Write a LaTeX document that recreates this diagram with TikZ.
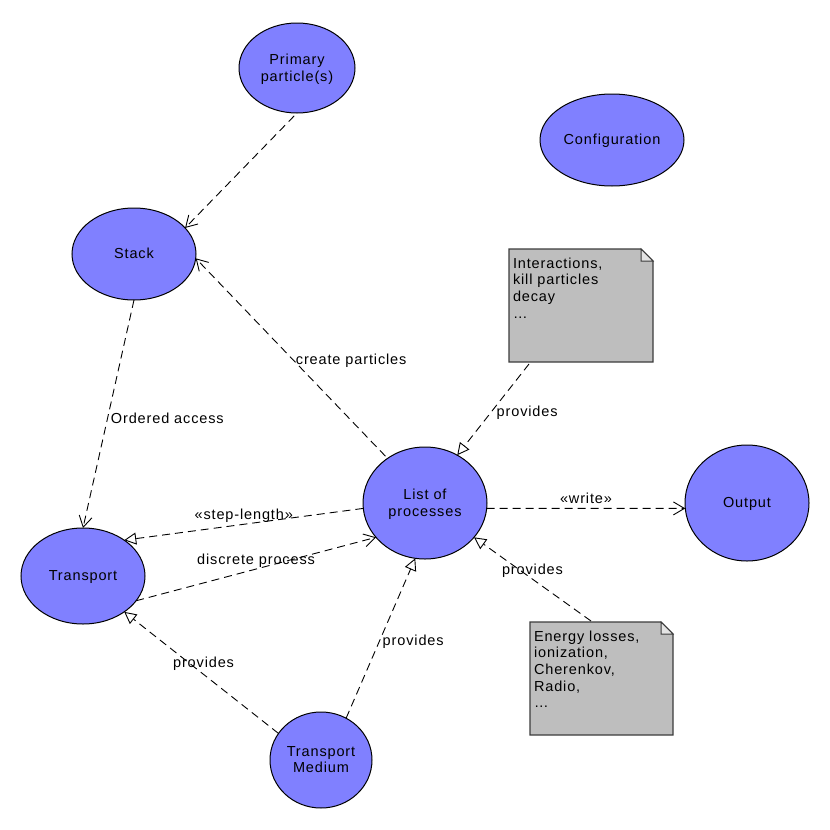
\documentclass[tikz,border=0pt]{standalone}
\usepackage{fontspec}
\usepackage{tikz}
\usetikzlibrary{arrows.meta, shapes.geometric, calc, backgrounds}
\newfontfamily\diagfont{Liberation Sans}[LetterSpace=6]
\newcommand{\diagsize}{\diagfont\fontsize{14.5pt}{16.7pt}\selectfont}
\definecolor{ucfill}{RGB}{128,128,255}
\definecolor{notefill}{RGB}{190,190,190}
\definecolor{notefold}{RGB}{228,228,228}
\definecolor{noteline}{RGB}{60,60,60}
\tikzset{
  usecase/.style={ellipse, draw=black, fill=ucfill, line width=1pt,
                  inner sep=0pt, outer sep=0pt, font=\diagsize, align=center,
                  text depth=1pt},
  note/.style={rectangle, inner sep=4pt, outer sep=0pt, anchor=north west,
               font=\diagsize},
  notepaper/.style={draw=noteline, fill=notefill, line width=1.2pt},
  notecorner/.style={draw=noteline, fill=notefold, line width=1pt},
  dep/.style={-{Straight Barb[length=11pt, width=13pt]}, line width=0.9pt,
              dash pattern=on 8pt off 5pt},
  real/.style={-{Triangle[open, length=12pt, width=12pt, fill=white]},
               line width=0.9pt, dash pattern=on 8pt off 5pt},
  edgelabel/.style={font=\diagsize, inner sep=3pt},
}

\begin{document}
\begin{tikzpicture}[x=1pt, y=-1pt]
  \useasboundingbox (0,0) rectangle (830,830);

  % use cases
  \node[usecase, minimum width=116pt, minimum height=90pt] (primary) at (297,68) {Primary\\particle(s)};
  \node[usecase, minimum width=144pt, minimum height=92pt] (config) at (612,140) {Configuration};
  \node[usecase, minimum width=124pt, minimum height=92pt] (stack) at (134,254) {Stack};
  \node[usecase, minimum width=124pt, minimum height=112pt] (list) at (425,503) {List of\\processes};
  \node[usecase, minimum width=124pt, minimum height=116pt] (output) at (747,503) {Output};
  \node[usecase, minimum width=124pt, minimum height=96pt] (transport) at (83,576) {Transport};
  \node[usecase, minimum width=102pt, minimum height=96pt] (medium) at (321,760) {Transport\\Medium};

  % notes
  \node[note] (note1) at (509,249)
    {\parbox[t][105pt][t]{136pt}{\rule{0pt}{15pt}Interactions,\\kill particles\\decay\\\ldots}};
  \node[note] (note2) at (530,622)
    {\parbox[t][105pt][t]{135pt}{\rule{0pt}{15pt}Energy losses,\\ionization,\\Cherenkov,\\Radio,\\\ldots}};
  \begin{scope}[on background layer]
    \foreach \n in {note1, note2} {
      \path[notepaper] (\n.north west) -- ($(\n.north east)+(-12pt,0)$)
        -- ($(\n.north east)+(0,-12pt)$) -- (\n.south east) -- (\n.south west) -- cycle;
      \path[notecorner] ($(\n.north east)+(-12pt,0)$) -- ($(\n.north east)+(-12pt,-12pt)$)
        -- ($(\n.north east)+(0,-12pt)$) -- cycle;
    }
  \end{scope}

  % connectors
  \draw[dep, shorten <=4pt] (primary.-90) -- (stack.27);
  \draw[dep] (stack.south) -- node[edgelabel, pos=0.52, anchor=west] (lblorder) {Ordered access} (transport.north);
  \draw[dep, shorten <=3pt] (list.130) -- node[edgelabel, pos=0.48, anchor=west, xshift=-3pt, yshift=2pt] (lblcreate) {create particles} (stack.-4);
  \draw[real] ($(note1.south west)+(20pt,-2pt)$) -- node[edgelabel, pos=0.54, anchor=west, xshift=3pt] (lblnote1) {provides} (list.56);
  \draw[dep] (list.-5) -- node[edgelabel, yshift=10pt] (lblwrite) {«write»} (output.185);
  \draw[real] (list.185) -- node[edgelabel, yshift=9pt] (lblstep) {«step-length»} (transport.41);
  \draw[dep] (transport.-25) -- node[edgelabel, yshift=8pt] (lbldiscrete) {discrete process} (list.215);
  \draw[real] ($(note2.north west)+(61pt,1pt)$) -- node[edgelabel, yshift=8pt] (lblnote2) {provides} (list.-35);
  \draw[real] (medium.59) -- node[edgelabel, pos=0.48, anchor=west] (lblmedlist) {provides} (list.260);
  \draw[real] (medium.148) -- node[edgelabel, pos=0.57, xshift=13pt] (lblmedtrans) {provides} (transport.-41);
\end{tikzpicture}
\end{document}
